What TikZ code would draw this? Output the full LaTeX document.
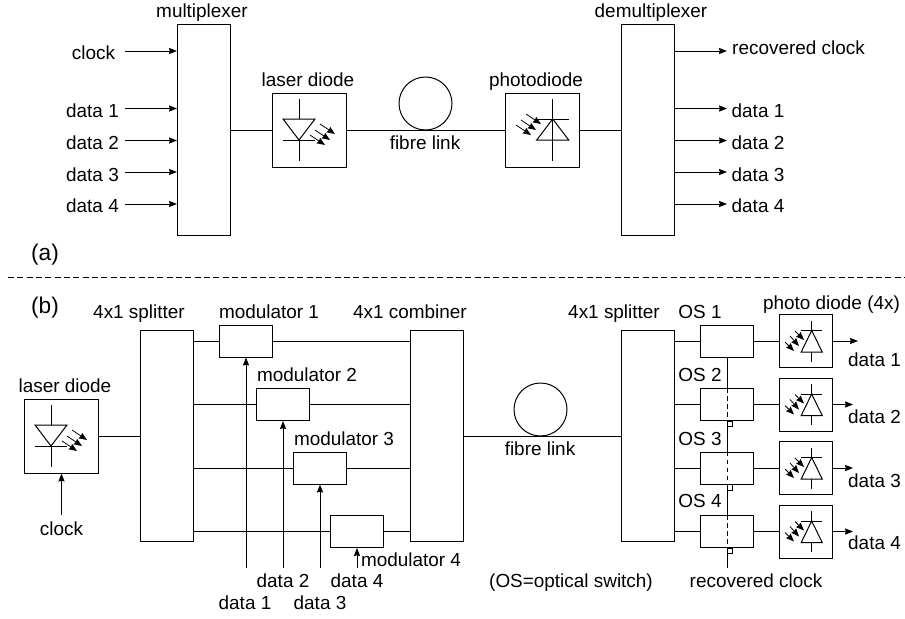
\documentclass[tikz,border=0pt]{standalone}
\usepackage{fontspec}
\setmainfont{Liberation Sans}
\usetikzlibrary{arrows.meta}
\tikzset{
  wire/.style={line width=0.75pt},
  sig/.style={wire,-{Stealth[length=6pt,width=4.6pt,inset=0.6pt]}},
  ray/.style={line width=0.6pt,-{Stealth[length=6pt,width=4.8pt,inset=0.6pt]}},
  txt/.style={anchor=base,inner sep=0pt,font=\fontsize{14.2}{16}\selectfont},
  tag/.style={txt,font=\fontsize{17}{20}\selectfont},
  tallbox/.style={draw,wire,rectangle,inner sep=0pt,minimum width=39.75pt,minimum height=158.6pt},
  modbox/.style={draw,wire,rectangle,inner sep=0pt,minimum width=39.75pt,minimum height=24pt},
  diodebox/.style={draw,wire,rectangle,inner sep=0pt,minimum size=55.5pt},
  smallbox/.style={draw,wire,rectangle,inner sep=0pt,minimum size=39.75pt},
  loop/.style={draw,wire,circle,inner sep=0pt,minimum size=39.75pt},
  laserpic/.pic={
    \draw[wire] (-10.5,-31.5) -- (-10.5,-11);
    \draw[wire] (-10.5,10) -- (-10.5,31);
    \draw[wire] (-26.5,-11) -- (5.5,-11) -- (-10.5,10) -- cycle;
    \draw[wire] (-26.5,10) -- (5.5,10);
    \draw[ray] (10.5,-6) -- (25.5,4);
    \draw[ray] (5.5,0) -- (20.5,10);
    \draw[ray] (0.5,5) -- (15.5,15);
  },
  photopic/.pic={
    \draw[wire] (10.7,-31.5) -- (10.7,31);
    \draw[wire] (-5.3,10) -- (26.7,10) -- (10.7,-11) -- cycle;
    \draw[wire] (-5.3,-11) -- (26.7,-11);
    \draw[ray] (-16,-16) -- (-1,-6);
    \draw[ray] (-21,-10) -- (-6,0);
    \draw[ray] (-26,-5) -- (-11,5);
  },
  photosmall/.pic={
    \draw[wire] (5.7,-20.5) -- (5.7,-10.5);
    \draw[wire] (5.7,11) -- (5.7,20.5);
    \draw[wire] (-4.8,11) -- (16.2,11) -- (5.7,-10.5) -- cycle;
    \draw[wire] (-4.8,-10.5) -- (16.2,-10.5);
    \draw[ray] (-11,-10) -- (-2,-1);
    \draw[ray] (-16,-5) -- (-7,5);
    \draw[ray] (-21,1) -- (-12,10);
  }
}
\begin{document}
\begin{tikzpicture}[x=0.75pt,y=-0.75pt]
  \useasboundingbox (0,0) rectangle (905,618);
  \node[tallbox] (mux) at (204,130) {};
  \node[tallbox] (demux) at (648,130) {};
  \node[diodebox] (lda) at (309.5,130) {};
  \node[diodebox] (pda) at (542,130) {};
  \node[loop] (loopa) at (425.5,103.5) {};
  \coordinate (inclk) at (124.5,51);
  \coordinate (in1) at (124.5,108.5);
  \coordinate (in2) at (124.5,140.5);
  \coordinate (in3) at (124.5,172);
  \coordinate (in4) at (124.5,204);
  \coordinate (outclk) at (727,51);
  \coordinate (out1) at (727,108.5);
  \coordinate (out2) at (727,140.5);
  \coordinate (out3) at (727,172);
  \coordinate (out4) at (727,204);
  \coordinate (sepl) at (8,277);
  \coordinate (sepr) at (905,277);
  \pic at (lda) {laserpic};
  \pic at (pda) {photopic};
  \node[txt] (tmux) at (202,17) {multiplexer};
  \node[txt] (tdemux) at (651,17) {demultiplexer};
  \node[txt] (tlda) at (308,86.5) {laser diode};
  \node[txt] (tpda) at (536,86.5) {photodiode};
  \node[txt] (tloopa) at (425,149) {fibre link};
  \node[txt] (tinclk) at (93.5,59) {clock};
  \node[txt] (tin1) at (92.5,117.5) {data 1};
  \node[txt] (tin2) at (92.5,149) {data 2};
  \node[txt] (tin3) at (92.5,181) {data 3};
  \node[txt] (tin4) at (92.5,212.5) {data 4};
  \node[txt] (toutclk) at (798.5,54) {recovered clock};
  \node[txt] (tout1) at (758,117.5) {data 1};
  \node[txt] (tout2) at (758,149) {data 2};
  \node[txt] (tout3) at (758,181) {data 3};
  \node[txt] (tout4) at (758,212.5) {data 4};
  \node[tag] (taga) at (45,260) {(a)};
  \node[tag] (tagb) at (45,313) {(b)};
  \begin{scope}[wire]
    \draw[sig] (inclk) -- (mux.west |- inclk);
    \draw[sig] (in1) -- (mux.west |- in1);
    \draw[sig] (in2) -- (mux.west |- in2);
    \draw[sig] (in3) -- (mux.west |- in3);
    \draw[sig] (in4) -- (mux.west |- in4);
    \draw[sig] (demux.east |- outclk) -- (outclk);
    \draw[sig] (demux.east |- out1) -- (out1);
    \draw[sig] (demux.east |- out2) -- (out2);
    \draw[sig] (demux.east |- out3) -- (out3);
    \draw[sig] (demux.east |- out4) -- (out4);
    \draw (mux.east |- lda) -- (lda);
    \draw (lda) -- (pda);
    \draw (pda) -- (demux.west |- pda);
    \draw[dashed,dash pattern=on 4.5pt off 2.5pt] (sepl) -- (sepr);
  \end{scope}
  \node[diodebox] (ldb) at (61.5,436) {};
  \node[tallbox] (split) at (167,436) {};
  \node[modbox] (mod1) at (246,341) {};
  \node[modbox] (mod2) at (283,404.5) {};
  \node[modbox] (mod3) at (320,468) {};
  \node[modbox] (mod4) at (357,531.5) {};
  \node[tallbox] (comb) at (436.5,436) {};
  \node[loop] (loopb) at (540.5,409.5) {};
  \node[tallbox] (splitr) at (648,436) {};
  \node[modbox] (os1) at (727,341) {};
  \node[modbox] (os2) at (727,404.5) {};
  \node[modbox] (os3) at (727,468) {};
  \node[modbox] (os4) at (727,531.5) {};
  \node[smallbox] (pd1) at (806,341) {};
  \node[smallbox] (pd2) at (806,404.5) {};
  \node[smallbox] (pd3) at (806,468) {};
  \node[smallbox] (pd4) at (806,531.5) {};
  \coordinate (clkb) at (61.5,515);
  \coordinate (d1) at (246,568);
  \coordinate (d2) at (283,568);
  \coordinate (d3) at (320,568);
  \coordinate (d4) at (357,568);
  \coordinate (rec) at (727,568);
  \coordinate (o1) at (858,341);
  \coordinate (o2) at (853,404.5);
  \coordinate (o3) at (853,468);
  \coordinate (o4) at (853,531.5);
  \pic at (ldb) {laserpic};
  \pic at (pd1) {photosmall};
  \pic at (pd2) {photosmall};
  \pic at (pd3) {photosmall};
  \pic at (pd4) {photosmall};
  \node[txt] (tldb) at (65,392) {laser diode};
  \node[txt] (tclkb) at (61.5,535) {clock};
  \node[txt] (tsplit) at (139,318) {4x1 splitter};
  \node[txt] (tmod1) at (269,318) {modulator 1};
  \node[txt] (tmod2) at (307,381.5) {modulator 2};
  \node[txt] (tmod3) at (344,445) {modulator 3};
  \node[txt] (tmod4) at (411,566) {modulator 4};
  \node[txt] (tcomb) at (410,318) {4x1 combiner};
  \node[txt] (tloopb) at (540,455) {fibre link};
  \node[txt] (tsplitr) at (614,318) {4x1 splitter};
  \node[txt] (tos1) at (700,318) {OS 1};
  \node[txt] (tos2) at (700,381) {OS 2};
  \node[txt] (tos3) at (700,445) {OS 3};
  \node[txt] (tos4) at (700,507.7) {OS 4};
  \node[txt] (tpd) at (831.5,309) {photo diode (4x)};
  \node[txt] (td2) at (283,587) {data 2};
  \node[txt] (td4) at (357,587) {data 4};
  \node[txt] (td1) at (245,609) {data 1};
  \node[txt] (td3) at (320,609) {data 3};
  \node[txt] (tnote) at (571,587) {(OS=optical switch)};
  \node[txt] (trec) at (756,587) {recovered clock};
  \node[txt] (to1) at (874.5,366) {data 1};
  \node[txt] (to2) at (874.5,423) {data 2};
  \node[txt] (to3) at (874.5,487) {data 3};
  \node[txt] (to4) at (874.5,549) {data 4};
  \begin{scope}[wire]
    \draw (ldb) -- (split.west |- ldb);
    \draw[sig] (clkb) -- (ldb);
    \draw (split.east |- mod1) -- (mod1);
    \draw (split.east |- mod2) -- (mod2);
    \draw (split.east |- mod3) -- (mod3);
    \draw (split.east |- mod4) -- (mod4);
    \draw (mod1) -- (comb.west |- mod1);
    \draw (mod2) -- (comb.west |- mod2);
    \draw (mod3) -- (comb.west |- mod3);
    \draw (mod4) -- (comb.west |- mod4);
    \draw[sig] (d1) -- (mod1);
    \draw[sig] (d2) -- (mod2);
    \draw[sig] (d3) -- (mod3);
    \draw[sig] (d4) -- (mod4);
    \draw (comb.east |- ldb) -- (splitr.west |- ldb);
    \draw (splitr.east |- os1) -- (os1);
    \draw (splitr.east |- os2) -- (os2);
    \draw (splitr.east |- os3) -- (os3);
    \draw (splitr.east |- os4) -- (os4);
    \draw (os1) -- (pd1);
    \draw (os2) -- (pd2);
    \draw (os3) -- (pd3);
    \draw (os4) -- (pd4);
    \draw[sig] (pd1) -- (o1);
    \draw[sig] (pd2) -- (o2);
    \draw[sig] (pd3) -- (o3);
    \draw[sig] (pd4) -- (o4);
    \draw (os1) -- (os2);
    \draw (os2.south) -- (os3);
    \draw (os3.south) -- (os4);
    \draw (os4.south) -- (rec);
    \draw[dashed,dash pattern=on 3.5pt off 2.5pt] (os2.north) -- (os2.south);
    \draw[dashed,dash pattern=on 3.5pt off 2.5pt] (os3.north) -- (os3.south);
    \draw[dashed,dash pattern=on 3.5pt off 2.5pt] (os4.north) -- (os4.south);
    \draw[line width=0.5pt] (os2.south) rectangle +(5.5,5.5);
    \draw[line width=0.5pt] (os3.south) rectangle +(5.5,5.5);
    \draw[line width=0.5pt] (os4.south) rectangle +(5.5,5.5);
  \end{scope}
\end{tikzpicture}
\end{document}
